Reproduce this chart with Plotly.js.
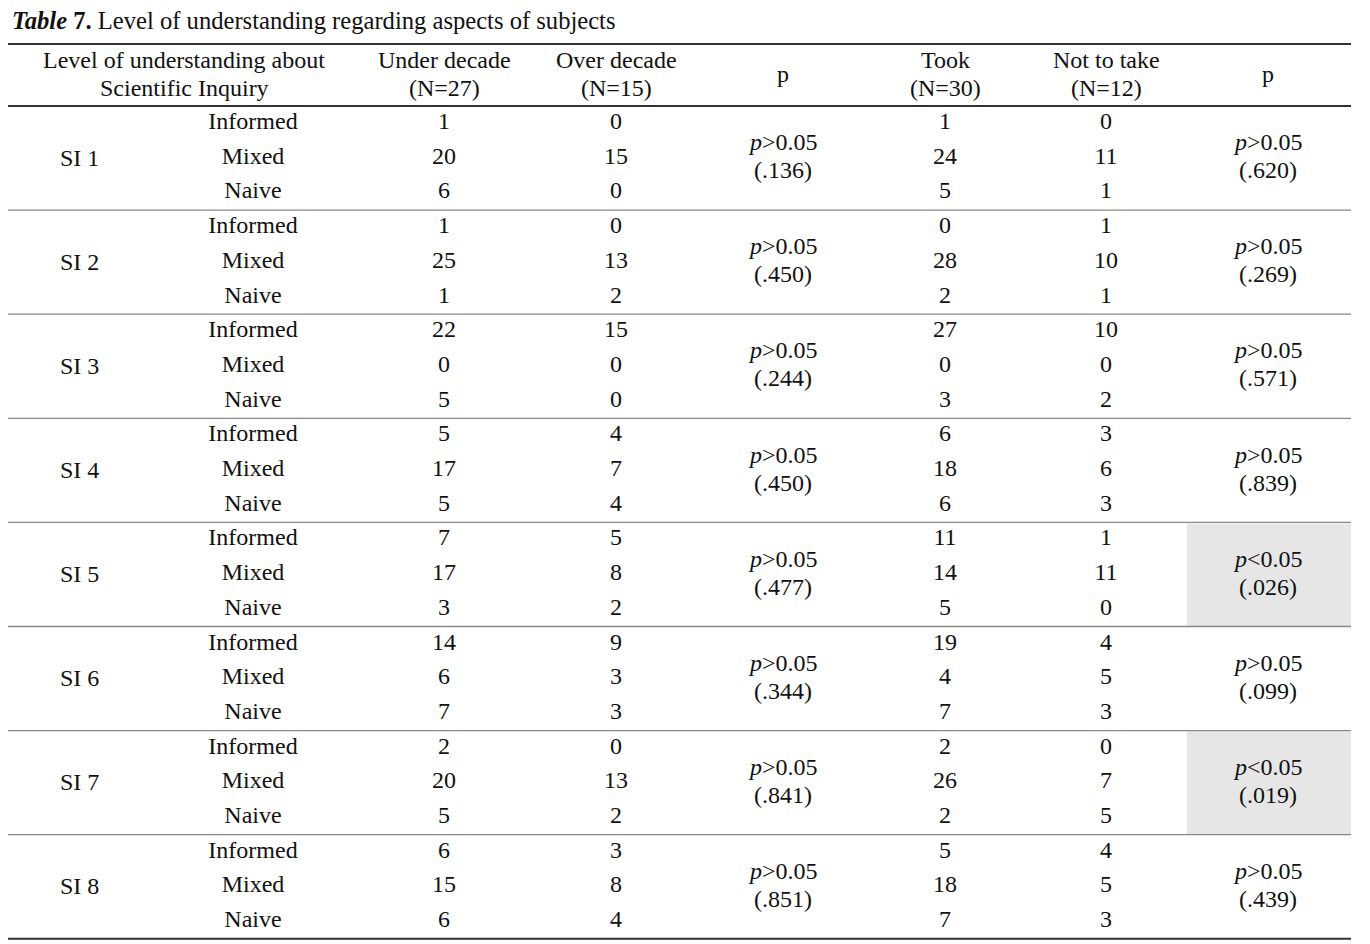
<!DOCTYPE html>
<html>
<head>
<meta charset="utf-8">
<script src="https://cdn.plot.ly/plotly-3.0.1.min.js"></script>
<style>html,body{margin:0;padding:0;background:#fff;}#chart{width:1370px;height:944px;}</style>
</head>
<body>
<div id="chart"></div>
<script>
// ---- data ----
const siLabels = ['SI 1','SI 2','SI 3','SI 4','SI 5','SI 6','SI 7','SI 8'];
const levels = ['Informed','Mixed','Naive'];
const underDecade = [[1,20,6],[1,25,1],[22,0,5],[5,17,5],[7,17,3],[14,6,7],[2,20,5],[6,15,6]];
const overDecade  = [[0,15,0],[0,13,2],[15,0,0],[4,7,4],[5,8,2],[9,3,3],[0,13,2],[3,8,4]];
const pDecade = ['.136','.450','.244','.450','.477','.344','.841','.851'];
const took    = [[1,24,5],[0,28,2],[27,0,3],[6,18,6],[11,14,5],[19,4,7],[2,26,2],[5,18,7]];
const notTake = [[0,11,1],[1,10,1],[10,0,2],[3,6,3],[1,11,0],[4,5,3],[0,7,5],[4,5,3]];
const pTook = ['.620','.269','.571','.839','.026','.099','.019','.439'];
const headers = [['Level of understanding about','Scientific Inquiry'],['Under decade','(N=27)'],['Over decade','(N=15)'],['p'],['Took','(N=30)'],['Not to take','(N=12)'],['p']];
const titleText = '<b><i>Table</i> 7.</b> Level of understanding regarding aspects of subjects';

// ---- layout constants ----
const FONT = 'Liberation Serif, Times New Roman, serif';
const FS = 24;
const TFS = 24.6;
const LINE_GAP = 28;
const colX = {si:79, level:253, under:444, over:616, p1:783, took:945, not:1106, p2:1268};
const headerX = [184, colX.under, colX.over, colX.p1, colX.took, colX.not, colX.p2];
const L = 8, R = 1351;
const topRule = 44, headRule = 106, headMid = 74;
const groupH = 104.1, rowH = 34.7, rowOff = 17;
const gTop = g => headRule + g*groupH;
const rowY = (g, r) => gTop(g) + rowOff + r*rowH;
const gMid = g => gTop(g) + rowOff + rowH;
const pMid = g => gMid(g) - 1.5;

const isSig = s => parseFloat('0' + s) < 0.05;
const pLines = s => ['<i>p</i>' + (isSig(s) ? '&lt;' : '&gt;') + '0.05', '(' + s + ')'];

// ---- traces: numeric cells and row labels ----
const traces = [];
function addCol(xpos, getter) {
  const xs = [], ys = [], ts = [];
  siLabels.forEach((_, g) => levels.forEach((lv, r) => {
    xs.push(xpos); ys.push(rowY(g, r)); ts.push(String(getter(g, r)));
  }));
  traces.push({type:'scatter', mode:'text', x:xs, y:ys, text:ts, textposition:'middle center',
    textfont:{family:FONT, size:FS, color:'#111'}, hoverinfo:'skip', showlegend:false, cliponaxis:false});
}
addCol(colX.level, (g, r) => levels[r]);
addCol(colX.under, (g, r) => underDecade[g][r]);
addCol(colX.over,  (g, r) => overDecade[g][r]);
addCol(colX.took,  (g, r) => took[g][r]);
addCol(colX.not,   (g, r) => notTake[g][r]);

// ---- annotations ----
const ann = [];
function addLines(x, yMid, lines) {
  const n = lines.length;
  lines.forEach((t, i) => ann.push({x:x, y:yMid + (i - (n-1)/2)*LINE_GAP, xref:'x', yref:'y',
    xanchor:'center', yanchor:'middle', showarrow:false, text:t, font:{family:FONT, size:FS, color:'#111'}}));
}
ann.push({x:L+2, y:20, xref:'x', yref:'y', xanchor:'left', yanchor:'middle', showarrow:false,
  text:titleText, font:{family:FONT, size:TFS, color:'#111'}});
headers.forEach((h, i) => addLines(headerX[i], headMid, h));
siLabels.forEach((s, g) => {
  addLines(colX.si, gMid(g), [s]);
  addLines(colX.p1, pMid(g), pLines(pDecade[g]));
  addLines(colX.p2, pMid(g), pLines(pTook[g]));
});

// ---- shapes ----
const shapes = [];
pTook.forEach((s, g) => {
  if (isSig(s)) shapes.push({type:'rect', xref:'x', yref:'y', x0:1187, x1:R, y0:gTop(g)+1, y1:gTop(g+1), fillcolor:'#e6e6e6', line:{width:0}, layer:'below'});
});
shapes.push({type:'line', xref:'x', yref:'y', x0:L, x1:R, y0:topRule, y1:topRule, line:{color:'#333', width:2}});
shapes.push({type:'line', xref:'x', yref:'y', x0:L, x1:R, y0:headRule, y1:headRule, line:{color:'#333', width:2}});
for (let g = 1; g < siLabels.length; g++) {
  shapes.push({type:'line', xref:'x', yref:'y', x0:L, x1:R, y0:gTop(g), y1:gTop(g), line:{color:'#888', width:1.3}});
}
shapes.push({type:'line', xref:'x', yref:'y', x0:L, x1:R, y0:gTop(siLabels.length), y1:gTop(siLabels.length), line:{color:'#333', width:2}});

const layout = {
  width:1370, height:944, margin:{l:0, r:0, t:0, b:0},
  paper_bgcolor:'#fff', plot_bgcolor:'#fff',
  xaxis:{range:[0,1370], visible:false, fixedrange:true},
  yaxis:{range:[944,0], visible:false, fixedrange:true},
  annotations:ann, shapes:shapes, showlegend:false
};
Plotly.newPlot('chart', traces, layout, {displayModeBar:false, staticPlot:true});
</script>
</body>
</html>
